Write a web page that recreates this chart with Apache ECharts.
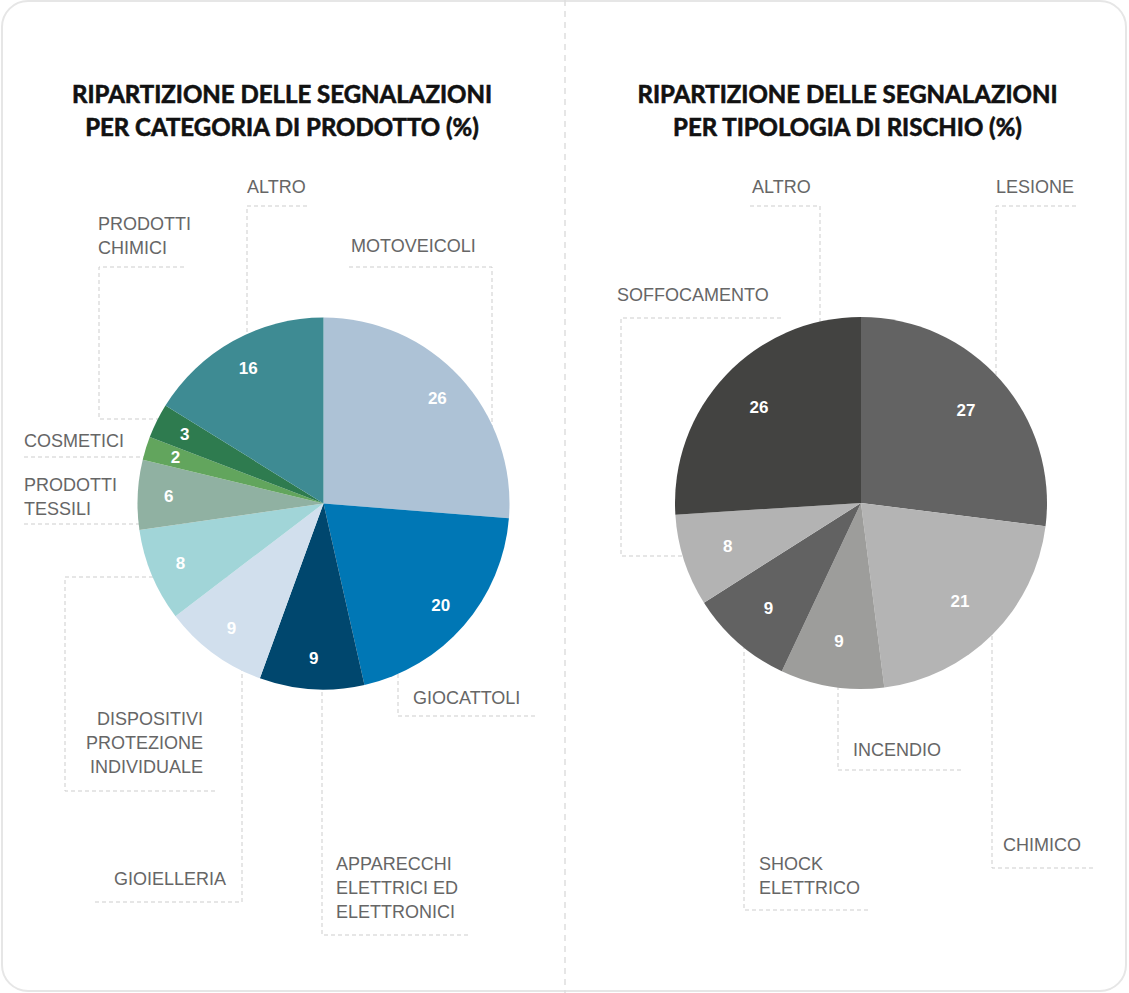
<!DOCTYPE html>
<html>
<head>
<meta charset="utf-8">
<script src="https://cdn.jsdelivr.net/npm/echarts@6/dist/echarts.min.js"></script>
<style>
  html, body { margin: 0; padding: 0; background: #fff; }
  #chart { width: 1129px; height: 993px; }
</style>
</head>
<body>
<div id="chart"></div>
<script>
// ---- Data: reports by product category (%) ----
const productCategories = [
  'MOTOVEICOLI', 'GIOCATTOLI', 'APPARECCHI\nELETTRICI ED\nELETTRONICI', 'GIOIELLERIA',
  'DISPOSITIVI\nPROTEZIONE\nINDIVIDUALE', 'PRODOTTI\nTESSILI', 'COSMETICI',
  'PRODOTTI\nCHIMICI', 'ALTRO'
];
const productShares = [26, 20, 9, 9, 8, 6, 2, 3, 16];

// ---- Data: reports by risk type (%) ----
const riskTypes = ['LESIONE', 'CHIMICO', 'INCENDIO', 'SHOCK\nELETTRICO', 'SOFFOCAMENTO', 'ALTRO'];
const riskShares = [27, 21, 9, 9, 8, 26];

const productTitle = 'RIPARTIZIONE DELLE SEGNALAZIONI\nPER CATEGORIA DI PRODOTTO (%)';
const riskTitle = 'RIPARTIZIONE DELLE SEGNALAZIONI\nPER TIPOLOGIA DI RISCHIO (%)';

// ---- Palettes ----
const productColors = ['#adc2d6', '#0077b5', '#00476e', '#d1dfed', '#a1d5d8',
                       '#90b1a2', '#62a55d', '#2e7b4f', '#3e8b93'];
const riskColors = ['#636363', '#b4b4b4', '#9d9d9b', '#626262', '#b3b3b3', '#434341'];

// ---- Layout ----
const leftPie = { cx: 323.5, cy: 503.5, r: 186, valueRing: 118 };
const rightPie = { cx: 861, cy: 503, r: 186, valueRing: 88 };

// Name label anchors (x, centre of the last text line) and dashed leader paths.
// Each leader ends underneath its own slice, so the pie hides the tail.
const productLabelLayout = [
  { x: 351, y: 246, align: 'left',  path: [[349, 267], [492, 267], [492, 503]] },
  { x: 413, y: 698, align: 'left',  path: [[535, 716], [398, 716], [398, 600]] },
  { x: 336, y: 912, align: 'left',  path: [[468, 935], [322, 935], [322, 650]] },
  { x: 226, y: 879, align: 'right', path: [[95, 902], [242, 902], [242, 640]] },
  { x: 203, y: 767, align: 'right', path: [[215, 791], [65, 791], [65, 577], [250, 577]] },
  { x: 24,  y: 509, align: 'left',  path: [[24, 524], [250, 524]] },
  { x: 24,  y: 441, align: 'left',  path: [[24, 457], [250, 457]] },
  { x: 98,  y: 248, align: 'left',  path: [[184, 267], [99, 267], [99, 419], [250, 419]] },
  { x: 247, y: 187, align: 'left',  path: [[307, 206], [247, 206], [247, 400]] }
];
const riskLabelLayout = [
  { x: 996, y: 187, align: 'left', path: [[1076, 206], [996, 206], [996, 420]] },
  { x: 1003, y: 845, align: 'left', path: [[1093, 868], [992, 868], [992, 600]] },
  { x: 853, y: 750, align: 'left', path: [[961, 770], [838, 770], [838, 620]] },
  { x: 759, y: 888, align: 'left', path: [[868, 910], [744, 910], [744, 600]] },
  { x: 617, y: 295, align: 'left', path: [[781, 318], [621, 318], [621, 556], [760, 556]] },
  { x: 752, y: 187, align: 'left', path: [[750, 206], [820, 206], [820, 400]] }
];

const LABEL_FONT = "'Liberation Sans', Arial, sans-serif";
const TITLE_FONT = "Lato, 'Open Sans', sans-serif";

function toData(names, values, colors) {
  return names.map((n, i) => ({ name: n, value: values[i], itemStyle: { color: colors[i] } }));
}

// Full pie: coloured slices plus the category names placed by labelLayout.
function namePie(geo, names, values, colors, layout) {
  return {
    type: 'pie',
    z: 5,
    center: [geo.cx, geo.cy],
    radius: [0, geo.r],
    startAngle: 90,
    clockwise: true,
    avoidLabelOverlap: false,
    silent: true,
    data: toData(names, values, colors),
    itemStyle: { borderWidth: 0 },
    label: {
      show: true,
      position: 'outside',
      formatter: '{b}',
      color: '#666',
      fontFamily: LABEL_FONT,
      fontSize: 18,
      lineHeight: 24,
      overflow: 'none'
    },
    labelLine: { show: false },
    labelLayout: function (p) {
      const l = layout[p.dataIndex];
      return { x: l.x, y: l.y + 12, align: l.align, verticalAlign: 'bottom' };
    }
  };
}

// Transparent ring carrying the value labels at the chosen radius.
function valuePie(geo, names, values) {
  return {
    type: 'pie',
    z: 6,
    center: [geo.cx, geo.cy],
    radius: [geo.valueRing, geo.r],
    startAngle: 90,
    clockwise: true,
    silent: true,
    data: names.map((n, i) => ({ name: n, value: values[i] })),
    itemStyle: { color: 'rgba(0,0,0,0)', borderWidth: 0 },
    label: {
      show: true,
      position: 'inside',
      formatter: '{c}',
      color: '#fff',
      fontFamily: LABEL_FONT,
      fontWeight: 'bold',
      fontSize: 17
    },
    labelLine: { show: false },
    emphasis: { disabled: true }
  };
}

function leaders(layout) {
  return layout.map(l => ({
    type: 'polyline',
    z: 2,
    silent: true,
    shape: { points: l.path },
    style: { stroke: '#cdcdcd', lineWidth: 1, lineDash: [4, 3], fill: null }
  }));
}

function titleText(x, text) {
  return {
    type: 'text', z: 3, silent: true, x: x, y: 110,
    style: {
      text: text, align: 'center', verticalAlign: 'middle',
      fill: '#111', stroke: '#111', lineWidth: 0.6,
      fontFamily: TITLE_FONT, fontWeight: 'bold', fontSize: 24, lineHeight: 33
    }
  };
}

const chart = echarts.init(document.getElementById('chart'), null, { renderer: 'svg' });

chart.setOption({
  animation: false,
  backgroundColor: '#fff',
  graphic: {
    elements: [
      {
        type: 'rect', z: 0, silent: true,
        shape: { x: 2, y: 1, width: 1124, height: 990, r: 26 },
        style: { fill: '#fff', stroke: '#e6e6e6', lineWidth: 2 }
      },
      {
        type: 'line', z: 1, silent: true,
        shape: { x1: 565, y1: 0, x2: 565, y2: 993 },
        style: { stroke: '#dedede', lineWidth: 1.5, lineDash: [6, 5] }
      },
      titleText(282, productTitle),
      titleText(847.5, riskTitle),
      ...leaders(productLabelLayout),
      ...leaders(riskLabelLayout)
    ]
  },
  series: [
    namePie(leftPie, productCategories, productShares, productColors, productLabelLayout),
    valuePie(leftPie, productCategories, productShares),
    namePie(rightPie, riskTypes, riskShares, riskColors, riskLabelLayout),
    valuePie(rightPie, riskTypes, riskShares)
  ]
});
</script>
</body>
</html>
